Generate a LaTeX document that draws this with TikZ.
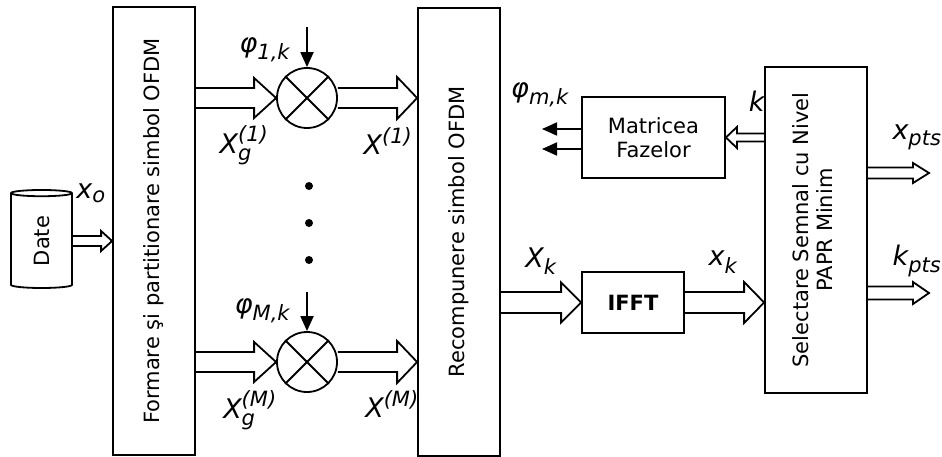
\documentclass[tikz,border=0pt]{standalone}
\usepackage{amsmath}
\usepackage{graphicx}
\usepackage{fontspec}
\setmainfont{DejaVu Sans}
\usetikzlibrary{shapes.geometric,arrows.meta,calc}
\DeclareMathSizes{27}{27}{21}{16}

% hollow block arrow: from, to, shaft half, head half, head length
\newcommand{\hollowarrow}[5]{%
  \path (#1) coordinate (hs) (#2) coordinate (he);
  \draw[line join=miter] ($(hs)+(0,#3)$) -- ($(he)+({-(#5)},#3)$) -- ($(he)+({-(#5)},#4)$)
    -- (he) -- ($(he)+({-(#5)},-#4)$) -- ($(he)+({-(#5)},-#3)$) -- ($(hs)+(0,-#3)$);}

\begin{document}
\begin{tikzpicture}[x=1pt,y=-1pt,line width=1.8pt,
  box/.style={draw,rectangle,inner sep=0pt,font=\fontsize{21}{24}\selectfont},
  mult/.style={draw,circle,minimum size=60pt,inner sep=0pt},
  dot/.style={circle,fill,inner sep=0pt,minimum size=8pt},
  lbl/.style={inner sep=0pt,font=\fontsize{27}{30}\selectfont},
  thinarrow/.style={-{Triangle[length=15pt,width=13pt]}}]
\useasboundingbox (0,0) rectangle (942,457);

\node[draw,cylinder,rotate=90,minimum width=61pt,minimum height=98pt,aspect=0.4,
  inner sep=0pt,font=\fontsize{21}{24}\selectfont] (date) at (41.5,241) {Date};
\node[box,minimum width=82pt,minimum height=448pt] (form) at (154,231)
  {\rotatebox{90}{Formare şi partitionare simbol OFDM}};
\node[box,minimum width=82pt,minimum height=448pt] (recomp) at (459,232)
  {\rotatebox{90}{Recompunere simbol OFDM}};
\node[box,minimum width=143pt,minimum height=81pt,align=center] (matr) at (653.5,137.5)
  {Matricea\\Fazelor};
\node[box,minimum width=102pt,minimum height=61pt] (ifft) at (633,302.5) {\textbf{IFFT}};
\node[box,minimum width=102pt,minimum height=326pt] (sel) at (816,230)
  {\rotatebox{90}{\begin{tabular}{@{}c@{}}Selectare Semnal cu Nivel\\PAPR Minim\end{tabular}}};

\node[mult] (mul1) at (307,98) {};
\node[mult] (mulM) at (307,362) {};
\foreach \m in {mul1,mulM} {
  \draw (\m.north west) -- (\m.south east);
  \draw (\m.north east) -- (\m.south west);
}
\foreach \i/\y in {1/186,2/223,3/260}
  \node[dot] (dot\i) at (309,\y) {};

\coordinate (phi1) at (307,27);
\coordinate (phiM) at (307,292);
\coordinate (pm1) at (542,129);
\coordinate (pm2) at (542,149);
\coordinate (xout) at (929,173);
\coordinate (kout) at (929,293);

\draw[thinarrow] (phi1) -- (mul1.north);
\draw[thinarrow] (phiM) -- (mulM.north);
\draw[thinarrow] (matr.west |- pm1) -- (pm1);
\draw[thinarrow] (matr.west |- pm2) -- (pm2);

\hollowarrow{date.south}{form.west |- date}{5}{10}{11}
\hollowarrow{form.east |- mul1}{mul1.west}{10}{20}{22}
\hollowarrow{mul1.east}{recomp.west |- mul1}{10}{21}{20}
\hollowarrow{form.east |- mulM}{mulM.west}{10}{20}{22}
\hollowarrow{mulM.east}{recomp.west |- mulM}{10}{21}{20}
\hollowarrow{recomp.east |- ifft}{ifft.west}{10.5}{20}{20}
\hollowarrow{ifft.east}{sel.west |- ifft}{10.5}{20.5}{20}
\hollowarrow{sel.west |- matr}{matr.east}{4}{10.5}{-11}
\hollowarrow{sel.east |- xout}{xout}{5.5}{10}{16}
\hollowarrow{sel.east |- kout}{kout}{6.5}{11}{16}

\node[lbl] (lxo) at (91,193) {$\textit{x}_{\textit{o}}$};
\node[lbl,anchor=east] (lphi1) at (291,50) {$\textit{φ}_{\textit{1,k}}$};
\node[lbl,anchor=east] (lphiM) at (291,311) {$\textit{φ}_{\textit{M,k}}$};
\node[lbl] (lxg1) at (244,145) {$\textit{X}_{\textit{g}}^{\textit{(1)}}$};
\node[lbl] (lx1) at (388,141) {$\textit{X}^{\textit{(1)}}$};
\node[lbl] (lxgM) at (250,410) {$\textit{X}_{\textit{g}}^{\textit{(M)}}$};
\node[lbl] (lxM) at (392,404) {$\textit{X}^{\textit{(M)}}$};
\node[lbl] (lphim) at (540,95) {$\textit{φ}_{\textit{m,k}}$};
\node[lbl] (lk) at (757,101) {\textit{k}};
\node[lbl] (lXk) at (541,261) {$\textit{X}_{\textit{k}}$};
\node[lbl] (lxk) at (723,262) {$\textit{x}_{\textit{k}}$};
\node[lbl] (lxpts) at (917,137) {$\textit{x}_{\textit{pts}}$};
\node[lbl] (lkpts) at (917,261) {$\textit{k}_{\textit{pts}}$};
\end{tikzpicture}
\end{document}
